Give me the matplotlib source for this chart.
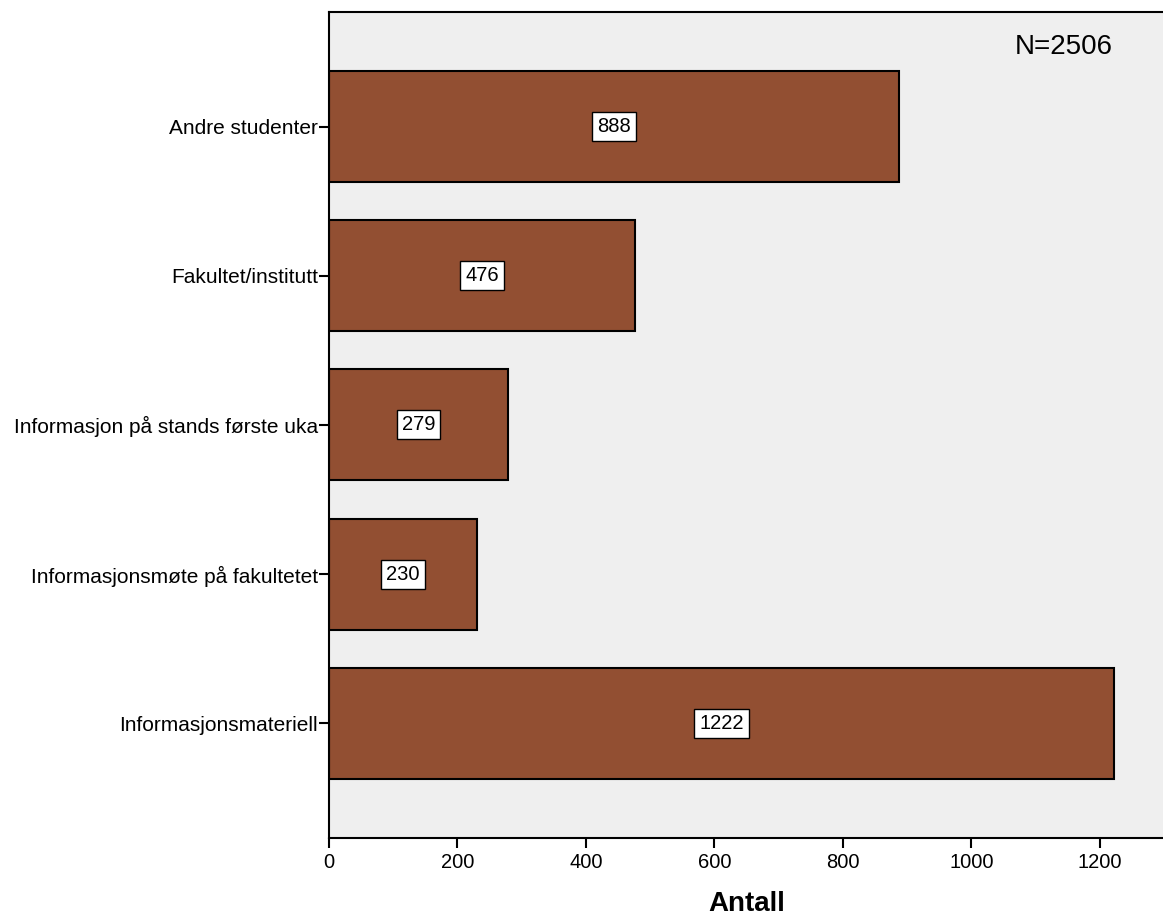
import matplotlib.pyplot as plt

# Data
categories = ['Informasjonsmateriell', 'Informasjonsmøte på fakultetet',
              'Informasjon på stands første uka', 'Fakultet/institutt',
              'Andre studenter']
counts = [1222, 230, 279, 476, 888]
x_ticks = [0, 200, 400, 600, 800, 1000, 1200]

plt.rcParams['font.family'] = ['Liberation Sans', 'DejaVu Sans']

fig = plt.figure(figsize=(11.63, 9.18), dpi=100)
ax = fig.add_axes([0.2829, 0.0871, 0.7171 + 0.001, 0.9])
ax.set_facecolor('#efefef')

ypos = list(range(len(categories)))
ax.barh(ypos, counts, height=0.745, color='#924f32', edgecolor='black', linewidth=1.5)

for y, c in zip(ypos, counts):
    ax.text(c / 2, y, str(c), ha='center', va='center', fontsize=14.5,
            bbox=dict(boxstyle='square,pad=0.25', facecolor='white', edgecolor='black', linewidth=1))

ax.set_yticks(ypos)
ax.set_yticklabels(categories, fontsize=15)
ax.set_xticks(x_ticks)
ax.set_xticklabels([str(t) for t in x_ticks], fontsize=14.5)
ax.set_xlim(0, 1300)
ax.set_ylim(-0.77, 4.77)
ax.tick_params(axis='both', length=7, width=1.5, color='black')
ax.tick_params(axis='y', pad=1)
for s in ax.spines.values():
    s.set_linewidth(1.5)

ax.set_xlabel('Antall', fontsize=20, fontweight='bold', labelpad=14)
ax.text(1144, 4.535, 'N=2506', fontsize=20, ha='center', va='center')

fig.savefig('out.png', dpi=100)
